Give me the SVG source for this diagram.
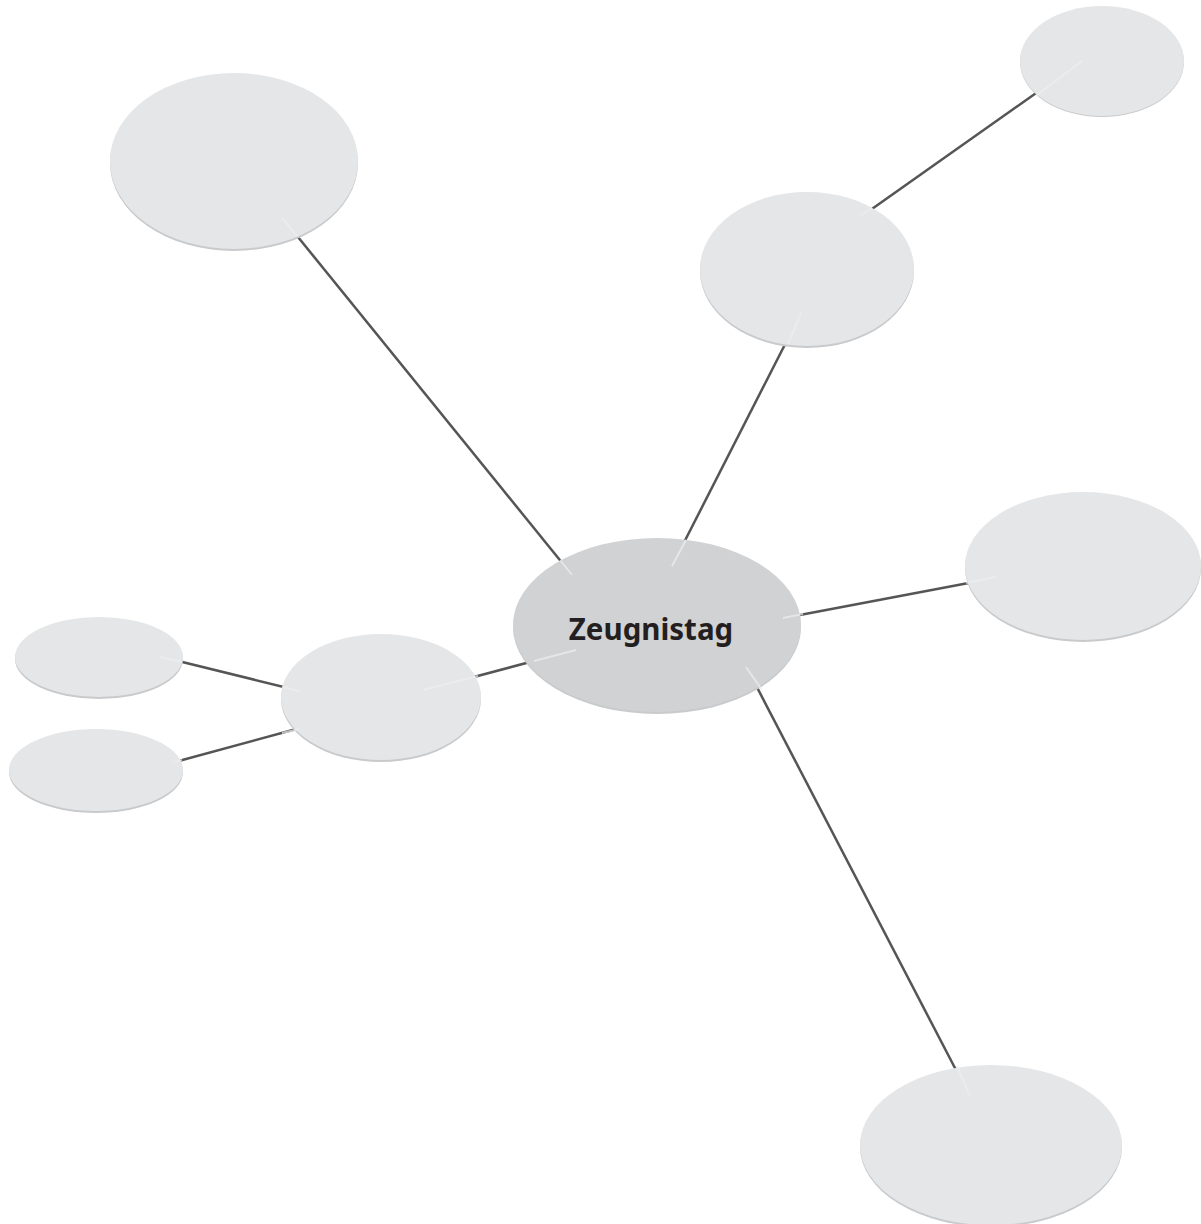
<svg xmlns="http://www.w3.org/2000/svg" width="1201" height="1224" viewBox="0 0 1201 1224">
<style>
.node{fill:#e5e6e7}
.center{fill:#d1d2d4}
.shadow{fill:#c9cacc}
.conn{stroke:#555555;stroke-width:2.5;fill:none}
.stub{stroke:#eeeeef;stroke-width:2;fill:none;opacity:0.7}
.label{font-family:"Noto Sans","Open Sans","Liberation Sans",sans-serif;font-weight:bold;font-size:29.5px;fill:#231f20}
</style>
<rect width="1201" height="1224" fill="#ffffff"/>
<g id="connectors">
<line class="conn" x1="285" y1="221" x2="572" y2="575"/>
<line class="conn" x1="800" y1="315" x2="672" y2="566"/>
<line class="conn" x1="1080" y1="62" x2="862" y2="216"/>
<line class="conn" x1="995" y1="578" x2="784" y2="618"/>
<line class="conn" x1="425" y1="690" x2="575" y2="650"/>
<line class="conn" x1="162" y1="657" x2="300" y2="691"/>
<line class="conn" x1="175" y1="762" x2="300" y2="728"/>
<line class="conn" x1="748" y1="670" x2="969" y2="1095"/>
</g>
<g id="node-center">
<ellipse class="shadow" cx="657" cy="627" rx="144" ry="87"/>
<ellipse class="center" cx="657" cy="625" rx="144" ry="87"/>
<text class="label" x="651" y="640" text-anchor="middle">Zeugnistag</text>
</g>
<g id="node-topleft">
<ellipse class="shadow" cx="234" cy="163" rx="124" ry="88"/>
<ellipse class="node" cx="234" cy="161" rx="124" ry="88"/>
</g>
<g id="node-topright">
<ellipse class="shadow" cx="1102" cy="62" rx="82" ry="55"/>
<ellipse class="node" cx="1102" cy="61" rx="82" ry="55"/>
</g>
<g id="node-uppermid">
<ellipse class="shadow" cx="807" cy="271" rx="107" ry="77"/>
<ellipse class="node" cx="807" cy="269" rx="107" ry="77"/>
</g>
<g id="node-right">
<ellipse class="shadow" cx="1083" cy="568" rx="118" ry="74"/>
<ellipse class="node" cx="1083" cy="566" rx="118" ry="74"/>
</g>
<g id="node-leftmid">
<ellipse class="shadow" cx="381" cy="699" rx="100" ry="63"/>
<ellipse class="node" cx="381" cy="697" rx="100" ry="63"/>
</g>
<g id="node-lefttop">
<ellipse class="shadow" cx="99" cy="659" rx="84" ry="40"/>
<ellipse class="node" cx="99" cy="657" rx="84" ry="40"/>
</g>
<g id="node-leftbottom">
<ellipse class="shadow" cx="96" cy="772" rx="87" ry="41"/>
<ellipse class="node" cx="96" cy="770" rx="87" ry="41"/>
</g>
<g id="node-bottom">
<ellipse class="shadow" cx="991" cy="1147" rx="131" ry="80"/>
<ellipse class="node" cx="991" cy="1145" rx="131" ry="80"/>
</g>
<g id="connector-stubs">
<line class="stub" x1="282" y1="218" x2="297" y2="236"/>
<line class="stub" x1="560" y1="560" x2="572" y2="575"/>
<line class="stub" x1="801" y1="313" x2="788" y2="344"/>
<line class="stub" x1="686" y1="540" x2="672" y2="566"/>
<line class="stub" x1="1082" y1="61" x2="1037" y2="95"/>
<line class="stub" x1="872" y1="208" x2="860" y2="216"/>
<line class="stub" x1="996" y1="577" x2="966" y2="583"/>
<line class="stub" x1="803" y1="614" x2="783" y2="618"/>
<line class="stub" x1="423" y1="690" x2="478" y2="676"/>
<line class="stub" x1="534" y1="661" x2="576" y2="650"/>
<line class="stub" x1="160" y1="657" x2="182" y2="662"/>
<line class="stub" x1="282" y1="687" x2="299" y2="691"/>
<line class="stub" x1="173" y1="762" x2="182" y2="760"/>
<line class="stub" x1="282" y1="733" x2="299" y2="729"/>
<line class="stub" x1="746" y1="667" x2="762" y2="690"/>
<line class="stub" x1="957" y1="1066" x2="970" y2="1096"/>
</g>
</svg>
